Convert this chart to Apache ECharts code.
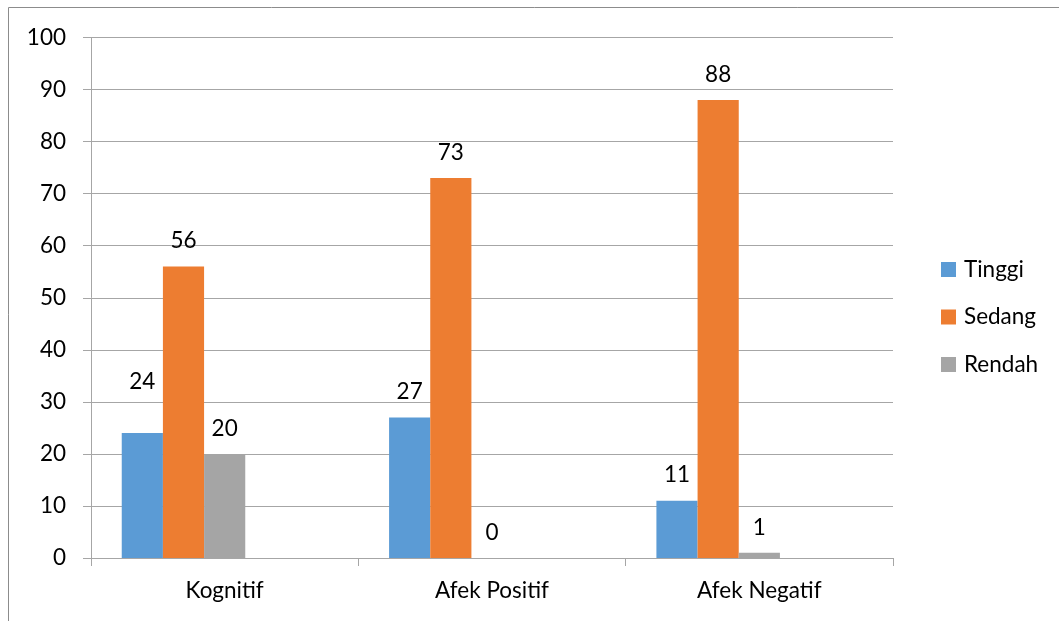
<!DOCTYPE html>
<html>
<head>
<meta charset="utf-8">
<script src="https://cdn.jsdelivr.net/npm/echarts@6/dist/echarts.min.js"></script>
<style>html,body{margin:0;padding:0;background:#fff;}#c{width:1059px;height:621px;}</style>
</head>
<body>
<div id="c"></div>
<script>
var categories = ['Kognitif', 'Afek Positif', 'Afek Negatif'];
var seriesNames = ['Tinggi', 'Sedang', 'Rendah'];
var tinggi = [24, 27, 11];
var sedang = [56, 73, 88];
var rendah = [20, 0, 1];
var yTicks = [0, 10, 20, 30, 40, 50, 60, 70, 80, 90, 100];
// the source chart reserves room for two further (empty) series per category
var emptySlots = [[], []];

var FONT = 'Lato';
var FS = 22.5;
var colors = ['#5B9BD5', '#ED7D31', '#A5A5A5', '#FFC000', '#4472C4'];
var gridColor = '#A6A6A6';

// Excel nudged one label upward (Tinggi, Kognitif)
function build(values, si) {
  return values.map(function (v, i) {
    var item = { value: v };
    if (si === 0 && i === 0) item.label = { offset: [0, -26] };
    return item;
  });
}

var series = [tinggi, sedang, rendah].map(function (vals, si) {
  return {
    name: seriesNames[si],
    type: 'bar',
    barGap: '0%',
    barCategoryGap: '23%',
    data: build(vals, si),
    label: {
      show: true,
      position: 'top',
      distance: 14,
      fontFamily: FONT,
      fontSize: FS,
      color: '#000'
    }
  };
});
emptySlots.forEach(function (vals, k) {
  series.push({ name: 'empty' + k, type: 'bar', barGap: '0%', barCategoryGap: '23%', data: vals, silent: true });
});

var chart = echarts.init(document.getElementById('c'));
chart.setOption({
  animation: false,
  color: colors,
  textStyle: { fontFamily: FONT },
  graphic: [{
    type: 'rect',
    shape: { x: 8.5, y: 7.5, width: 1100, height: 700 },
    style: { fill: 'none', stroke: '#8C8C8C', lineWidth: 1 },
    silent: true
  }],
  legend: {
    orient: 'vertical',
    left: 936,
    top: 253,
    itemWidth: 15,
    itemHeight: 15,
    itemGap: 24.5,
    icon: 'rect',
    data: seriesNames,
    textStyle: { fontFamily: FONT, fontSize: FS, color: '#000', padding: [0, 0, 0, 3] }
  },
  grid: { left: 91, right: 166, top: 37.5, bottom: 63, containLabel: false },
  xAxis: {
    type: 'category',
    data: categories,
    axisLine: { lineStyle: { color: gridColor } },
    axisTick: { show: true, length: 8, lineStyle: { color: gridColor } },
    axisLabel: { margin: 21, fontFamily: FONT, fontSize: FS, color: '#000' }
  },
  yAxis: {
    type: 'value',
    min: yTicks[0],
    max: yTicks[yTicks.length - 1],
    interval: 10,
    axisLine: { show: true, lineStyle: { color: gridColor } },
    axisTick: { show: true, length: 8, lineStyle: { color: gridColor } },
    splitLine: { lineStyle: { color: gridColor } },
    axisLabel: { margin: 25, fontFamily: FONT, fontSize: FS, color: '#000' }
  },
  series: series
});
</script>
</body>
</html>
